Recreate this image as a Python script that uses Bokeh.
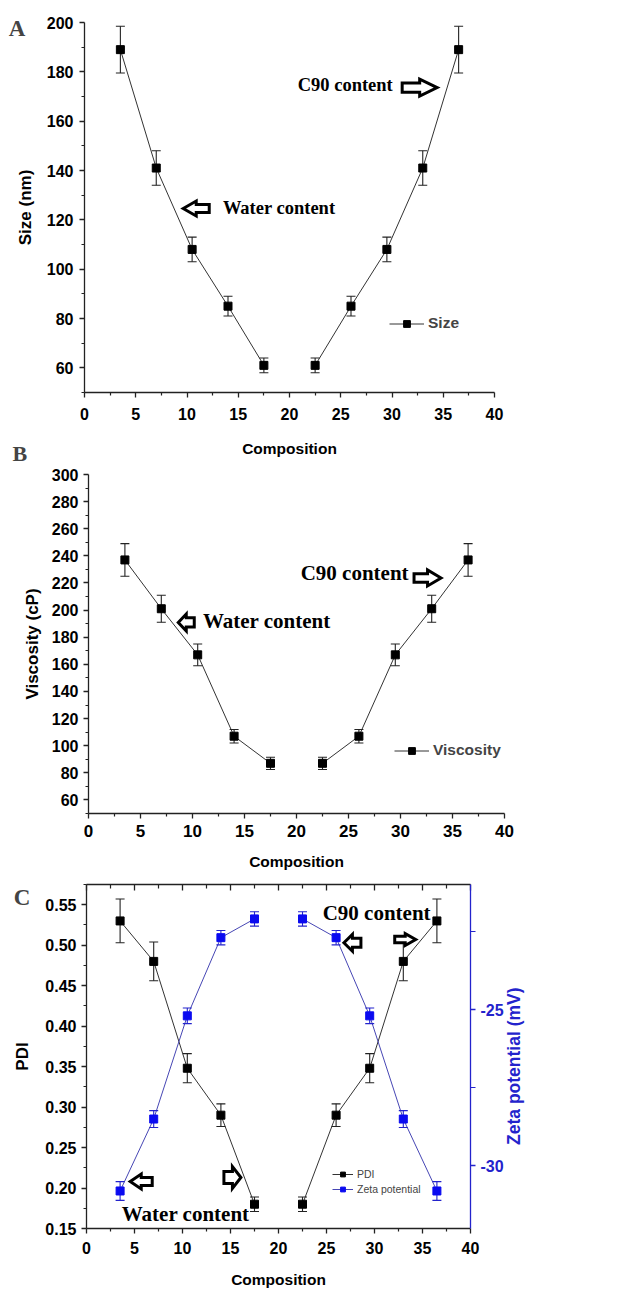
import math
from bokeh.plotting import figure
from bokeh.layouts import column
from bokeh.models import (FixedTicker, Range1d, LinearAxis, Legend, LegendItem, Label,
                          PrintfTickFormatter)
from bokeh.core.properties import value
from bokeh.embed import file_html
from bokeh.resources import INLINE

# ---------------- data ----------------
composition = [3.5, 7.0, 10.5, 14.0, 17.5, 22.5, 26.0, 29.5, 33.0, 36.5]
size_nm = [189, 141, 108, 85, 61, 61, 85, 108, 141, 189]
size_err = [9.5, 7, 5, 4, 3, 3, 4, 5, 7, 9.5]
viscosity = [237, 201, 167, 107, 87, 87, 107, 167, 201, 237]
viscosity_err = [12, 10, 8, 5, 4.5, 4.5, 5, 8, 10, 12]
pdi = [0.53, 0.48, 0.348, 0.29, 0.18, 0.18, 0.29, 0.348, 0.48, 0.53]
pdi_err = [0.027, 0.024, 0.018, 0.014, 0.009, 0.009, 0.014, 0.018, 0.024, 0.027]
zeta = [-30.8, -28.5, -25.2, -22.7, -22.1, -22.1, -22.7, -25.2, -28.5, -30.8]
zeta_err = [0.3, 0.27, 0.25, 0.23, 0.23, 0.23, 0.23, 0.25, 0.27, 0.3]

x_ticks = [0, 5, 10, 15, 20, 25, 30, 35, 40]
x_minor = [2.5, 7.5, 12.5, 17.5, 22.5, 27.5, 32.5, 37.5]
size_ticks = [60, 80, 100, 120, 140, 160, 180, 200]
size_minor = [50, 70, 90, 110, 130, 150, 170, 190]
visc_ticks = [60, 80, 100, 120, 140, 160, 180, 200, 220, 240, 260, 280, 300]
visc_minor = [50, 70, 90, 110, 130, 150, 170, 190, 210, 230, 250, 270, 290]
pdi_ticks = [0.15, 0.20, 0.25, 0.30, 0.35, 0.40, 0.45, 0.50, 0.55]
pdi_minor = [0.175, 0.225, 0.275, 0.325, 0.375, 0.425, 0.475, 0.525, 0.575]
zeta_ticks = [-30, -25]
zeta_minor = [-27.5, -22.5]

# annotation texts / arrows: (x, y) in data units, arrow sizes in px
annot_A = dict(texts=[(13.5, 124.6, "Water content"), (20.8, 174.5, "C90 content")],
               arrows=[(10.9, 124.6, "left", 29, 18), (32.7, 173.6, "right", 38, 20)],
               font="18.5px",
               # panel letters "A" and (below the A axis title) "B" live in this canvas
               letters=[("A", -7.4, 197.6, "23px"), ("B", -7.02, 25.47, "22px")])
annot_B = dict(texts=[(11.0, 191.6, "Water content"), (20.4, 227.7, "C90 content")],
               arrows=[(9.4, 190.9, "left", 19, 20), (32.6, 223.7, "right", 30, 19)],
               font="21px", letters=[])
annot_C = dict(texts=[(3.67, 0.168, "Water content"), (24.6, 0.540, "C90 content")],
               arrows=[(5.7, 0.208, "left", 25, 18), (15.2, 0.213, "right", 20, 25),
                       (27.7, 0.503, "left", 20, 20), (33.2, 0.507, "right", 24, 15)],
               font="21px", letters=[("C", -7.57, 0.559, "23px")])

AXIS_COLOR = "#222222"
BLUE_AXIS = "#2323cc"
BLUE_LINE = "#4646b4"
BLUE_MARK = "#0a0af0"
SANS = "Liberation Sans"
SERIF = "Liberation Serif"


def make_fig(height, bt, bb, bl, br, yr):
    p = figure(width=635, height=height, x_range=Range1d(0, 40), y_range=Range1d(*yr),
               output_backend="svg", toolbar_location=None,
               min_border_top=bt, min_border_bottom=bb, min_border_left=bl, min_border_right=br)
    p.frame_align = False
    p.grid.visible = False
    p.outline_line_color = None
    p.background_fill_color = "white"
    p.border_fill_color = "white"
    frame_w = 635 - bl - br
    frame_h = height - bt - bb
    p._sx = frame_w / 40.0
    p._sy = frame_h / float(yr[1] - yr[0])
    return p


def style_axis(ax, ticks, minor, color=AXIS_COLOR, font="16px", label_font="17px",
               standoff=6, label_standoff=8):
    ax.ticker = FixedTicker(ticks=ticks, minor_ticks=minor)
    ax.axis_line_color = color
    ax.axis_line_width = 1.3
    ax.major_tick_line_color = color
    ax.minor_tick_line_color = color
    ax.major_tick_line_width = 1.3
    ax.minor_tick_line_width = 1.2
    ax.major_tick_in = 0
    ax.major_tick_out = 5
    ax.minor_tick_in = 0
    ax.minor_tick_out = 3
    ax.major_label_text_font = SANS
    ax.major_label_text_font_style = "bold"
    ax.major_label_text_font_size = font
    ax.major_label_text_color = "black" if color == AXIS_COLOR else color
    ax.major_label_standoff = standoff
    ax.axis_label_text_font = SANS
    ax.axis_label_text_font_style = "bold"
    ax.axis_label_text_font_size = label_font
    ax.axis_label_text_color = "black" if color == AXIS_COLOR else color
    ax.axis_label_standoff = label_standoff


def draw_series(p, xs, ys, errs, line_color, mark_color, err_color, y_range_name="default"):
    n = len(xs) // 2
    lines = []
    for a, b in ((0, n), (n, len(xs))):
        r = p.line(xs[a:b], ys[a:b], line_color=line_color, line_width=1,
                   y_range_name=y_range_name)
        lines.append(r)
    lo = [y - e for y, e in zip(ys, errs)]
    hi = [y + e for y, e in zip(ys, errs)]
    p.segment(xs, lo, xs, hi, line_color=err_color, line_width=1.1, y_range_name=y_range_name)
    p.scatter(xs, lo, marker="dash", size=9, line_color=err_color, line_width=1.1,
              y_range_name=y_range_name)
    p.scatter(xs, hi, marker="dash", size=9, line_color=err_color, line_width=1.1,
              y_range_name=y_range_name)
    m = p.scatter(xs, ys, marker="square", size=8, fill_color=mark_color,
                  line_color=mark_color, y_range_name=y_range_name)
    return lines[0], m


def arrow_poly(xc, yc, direction, w, h, sx, sy):
    w = w - 3
    h = h - 3
    hl = 0.5 * w
    sh = 0.27 * h
    pts = [(-w / 2, 0), (-w / 2 + hl, h / 2), (-w / 2 + hl, sh), (w / 2, sh),
           (w / 2, -sh), (-w / 2 + hl, -sh), (-w / 2 + hl, -h / 2)]
    if direction == "right":
        pts = [(-x, y) for x, y in pts]
    return [xc + x / sx for x, y in pts], [yc + y / sy for x, y in pts]


def annotate(p, ann):
    xs_all, ys_all = [], []
    for (xc, yc, d, w, h) in ann["arrows"]:
        xs, ys = arrow_poly(xc, yc, d, w, h, p._sx, p._sy)
        xs_all.append(xs)
        ys_all.append(ys)
    p.patches(xs_all, ys_all, fill_color="white", line_color="black", line_width=3,
              line_join="miter")
    p.text(x=[t[0] for t in ann["texts"]], y=[t[1] for t in ann["texts"]],
           text=[t[2] for t in ann["texts"]], text_font=value(SERIF),
           text_font_style="bold", text_font_size=ann["font"], text_color="black",
           text_baseline="middle", text_align="left")
    for letter, lx, ly, fs in ann["letters"]:
        # placed in a side panel so that it is not clipped to the frame
        p.add_layout(Label(x=lx, y=ly, text=letter, text_font=SERIF, text_font_style="bold",
                           text_font_size=fs, text_baseline="middle", text_align="left"),
                     "right")


def make_legend(p, items, loc, font, style, gw, gh, spacing=0):
    leg = Legend(items=[LegendItem(label=lab, renderers=rs) for lab, rs in items],
                 location=loc, orientation="vertical")
    leg.background_fill_alpha = 0
    leg.border_line_color = None
    leg.padding = 0
    leg.margin = 0
    leg.spacing = spacing
    leg.glyph_width = gw
    leg.glyph_height = gh
    leg.label_height = gh
    leg.label_standoff = 4
    leg.label_text_font = SANS
    leg.label_text_font_style = style
    leg.label_text_font_size = font
    leg.label_text_baseline = "middle"
    p.add_layout(leg)


# ---------------- Panel A ----------------
pA = make_fig(465, 22, 73, 84, 141, (50, 200))
style_axis(pA.xaxis[0], x_ticks, x_minor, standoff=10, label_font="15.5px", label_standoff=17)
style_axis(pA.yaxis[0], size_ticks, size_minor, standoff=6, label_standoff=9)
pA.xaxis[0].axis_label = "Composition"
pA.yaxis[0].axis_label = "Size (nm)"
lA, mA = draw_series(pA, composition, size_nm, size_err, "#333333", "black", "#222222")
annotate(pA, annot_A)
make_legend(pA, [("Size", [lA, mA])], (305, 60), "15.5px", "bold", 35, 17)

# ---------------- Panel B ----------------
pB = make_fig(407, 9, 59, 88, 131, (50, 300))
style_axis(pB.xaxis[0], x_ticks, x_minor, font="17px", standoff=6, label_font="15.5px",
           label_standoff=13)
style_axis(pB.yaxis[0], visc_ticks, visc_minor, font="16px", standoff=5, label_standoff=7)
pB.xaxis[0].axis_label = "Composition"
pB.yaxis[0].axis_label = "Viscosity (cP)"
lB, mB = draw_series(pB, composition, viscosity, viscosity_err, "#333333", "black", "#222222")
annotate(pB, annot_B)
make_legend(pB, [("Viscosity", [lB, mB])], (306, 54), "15.5px", "bold", 35, 17)

# ---------------- Panel C ----------------
pC = make_fig(418, 12, 60, 86, 165, (0.15, 0.575))
style_axis(pC.xaxis[0], x_ticks, x_minor, standoff=8, label_font="15.5px", label_standoff=14)
style_axis(pC.yaxis[0], pdi_ticks, pdi_minor, standoff=5, label_standoff=10)
pC.yaxis[0].formatter = PrintfTickFormatter(format="%.2f")
pC.xaxis[0].axis_label = "Composition"
pC.yaxis[0].axis_label = "PDI"

top = LinearAxis()
style_axis(top, x_ticks, x_minor)
top.major_tick_in = 6
top.major_tick_out = 0
top.minor_tick_in = 4
top.minor_tick_out = 0
top.major_label_overrides = {t: "" for t in x_ticks}
top.major_label_standoff = 0
pC.add_layout(top, "above")

pC.extra_y_ranges = {"zeta": Range1d(-32, -21)}
right = LinearAxis(y_range_name="zeta")
style_axis(right, zeta_ticks, zeta_minor, color=BLUE_AXIS, standoff=5)
right.formatter = PrintfTickFormatter(format="%d")
right.minor_tick_out = 5
pC.add_layout(right, "right")

# title of the zeta axis, reading bottom-to-top, in the right side panel (not clipped)
pC.add_layout(Label(x=44.57, y=-26.81, y_range_name="zeta", text="Zeta potential (mV)",
                    angle=math.pi / 2, text_font=SANS, text_font_style="bold",
                    text_font_size="17.5px", text_color=BLUE_AXIS,
                    text_align="center", text_baseline="middle"), "right")

lP, mP = draw_series(pC, composition, pdi, pdi_err, "#333333", "black", "#222222")
lZ, mZ = draw_series(pC, composition, zeta, zeta_err, BLUE_LINE, BLUE_MARK, BLUE_AXIS,
                     y_range_name="zeta")
annotate(pC, annot_C)
make_legend(pC, [("PDI", [lP, mP]), ("Zeta potential", [lZ, mZ])], (246, 33), "10.5px",
            "normal", 21, 12, spacing=3)

layout = column(pA, pB, pC, spacing=0)
open("out.html", "w").write(file_html(layout, INLINE))
